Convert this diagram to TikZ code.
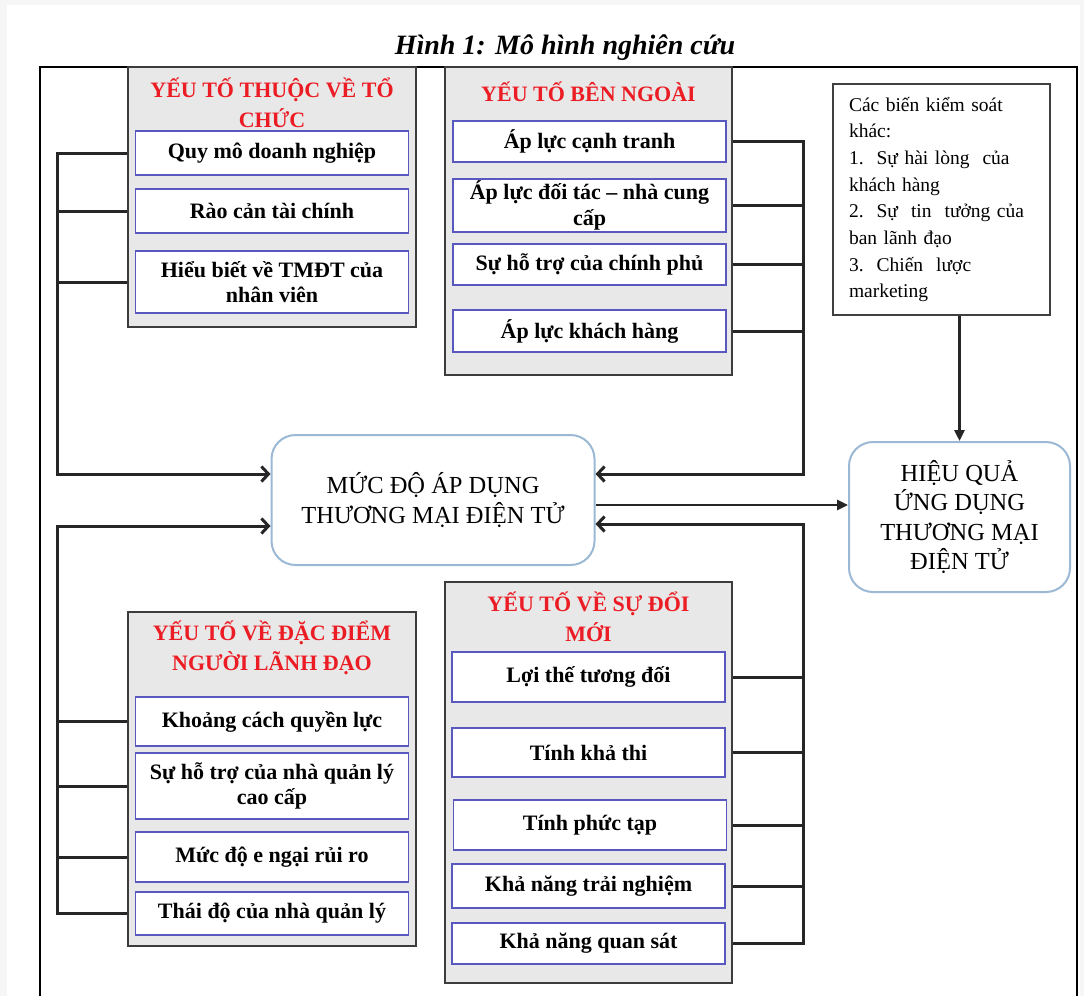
\documentclass[tikz,border=0pt]{standalone}
\usepackage{fontspec}
\setmainfont{Liberation Serif}
\usepackage{tikz}
\usetikzlibrary{arrows.meta,calc,positioning}
\definecolor{grpgray}{RGB}{232,232,232}
\definecolor{grpline}{RGB}{60,60,60}
\definecolor{itemblue}{RGB}{88,88,190}
\definecolor{hdrred}{RGB}{236,28,36}
\definecolor{mainblue}{RGB}{155,185,213}
\definecolor{pagegray}{RGB}{246,246,246}
\tikzset{
    grpbox/.style={draw=grpline,fill=grpgray,line width=2.4pt,minimum width=288pt},
    itembox/.style={draw=itemblue,fill=white,line width=1.8pt,align=center,inner sep=0pt,
        minimum width=273pt,font=\bfseries\fontsize{22}{25.5}\selectfont},
    hdrtext/.style={text=hdrred,align=center,font=\bfseries\fontsize{22}{30}\selectfont},
    mainbox/.style={draw=mainblue,fill=white,line width=2pt,rounded corners=24pt,align=center,
        inner sep=0pt,font=\fontsize{24.5}{30}\selectfont},
    ctlbox/.style={draw=black!75,fill=white,line width=1.4pt,align=left,text width=185pt,
        inner xsep=16pt,font=\fontsize{19.5}{26.7}\selectfont},
    wire/.style={line width=3pt,draw=black!85},
    wirein/.style={wire,-{Straight Barb[length=7pt,width=15pt]}},
    wireout/.style={wire,line width=2.6pt,-{Triangle[length=11pt,width=10pt]}},
    frame/.style={draw=black,line width=2pt}
}
\newcommand{\ctlrow}[2]{\makebox[#1pt][s]{#2}}

\begin{document}
\begin{tikzpicture}[x=1pt,y=-1pt]
  \fill[pagegray] (0,0) rectangle (1084,996);
  \fill[white] (7,5) rectangle (1080,996);
  \useasboundingbox (0,0) rectangle (1084,996);
  \draw[frame] (40,996) -- (40,67) -- (1077,67) -- (1077,996);
  \node[font=\bfseries\itshape\fontsize{28}{32}\selectfont] (title) at (565,48) {Hình 1: Mô hình nghiên cứu};

  % group boxes
  \node[grpbox,minimum height=260pt] (org) at (272,197) {};
  \node[grpbox,minimum width=287pt,minimum height=308pt] (ext) at (588.5,221) {};
  \node[grpbox,minimum height=334pt] (lead) at (272,779) {};
  \node[grpbox,minimum width=287pt,minimum height=401pt] (inno) at (588.5,782.5) {};

  \node[hdrtext] (orgh) at (272,103) {YẾU TỐ THUỘC VỀ TỔ\\CHỨC};
  \node[hdrtext] (exth) at (588.5,92) {YẾU TỐ BÊN NGOÀI};
  \node[hdrtext] (leadh) at (272,648) {YẾU TỐ VỀ ĐẶC ĐIỂM\\NGƯỜI LÃNH ĐẠO};
  \node[hdrtext] (innoh) at (588.5,617) {YẾU TỐ VỀ SỰ ĐỔI\\MỚI};

  % items
  \node[itembox,minimum height=44pt] (o1) at (272,153) {Quy mô doanh nghiệp};
  \node[itembox,minimum height=44pt] (o2) at (272,211) {Rào cản tài chính};
  \node[itembox,minimum height=62pt] (o3) at (272,282) {Hiểu biết về TMĐT của\\nhân viên};

  \node[itembox,minimum height=41pt] (e1) at (589.5,141.5) {Áp lực cạnh tranh};
  \node[itembox,minimum height=53pt] (e2) at (589.5,205.5) {Áp lực đối tác – nhà cung\\cấp};
  \node[itembox,minimum height=41pt] (e3) at (589.5,264.5) {Sự hỗ trợ của chính phủ};
  \node[itembox,minimum height=42pt] (e4) at (589.5,331) {Áp lực khách hàng};

  \node[itembox,minimum height=49pt] (l1) at (272,721.5) {Khoảng cách quyền lực};
  \node[itembox,minimum height=66pt] (l2) at (272,786) {Sự hỗ trợ của nhà quản lý\\cao cấp};
  \node[itembox,minimum height=50pt] (l3) at (272,857) {Mức độ e ngại rủi ro};
  \node[itembox,minimum height=43pt] (l4) at (272,913.5) {Thái độ của nhà quản lý};

  \node[itembox,minimum height=50pt] (n1) at (588.5,677) {Lợi thế tương đối};
  \node[itembox,minimum height=49pt] (n2) at (588.5,752.5) {Tính khả thi};
  \node[itembox,minimum height=50pt] (n3) at (590,825) {Tính phức tạp};
  \node[itembox,minimum height=44pt] (n4) at (588.5,886) {Khả năng trải nghiệm};
  \node[itembox,minimum height=41pt] (n5) at (588.5,943.5) {Khả năng quan sát};

  % main boxes
  \node[mainbox,minimum width=323pt,minimum height=130pt] (md) at (433,500) {MỨC ĐỘ ÁP DỤNG\\THƯƠNG MẠI ĐIỆN TỬ};
  \node[mainbox,minimum width=221pt,minimum height=150pt,font=\fontsize{24.5}{29.5}\selectfont] (hq) at (959.5,517)
    {HIỆU QUẢ\\ỨNG DỤNG\\THƯƠNG MẠI\\ĐIỆN TỬ};
  \node[ctlbox,minimum height=231pt] (ctl) at (941.5,199.5)
    {\ctlrow{171}{Các biến kiểm soát}\\khác:\\\ctlrow{169}{1.\ \ Sự hài lòng\ \ của}\\khách hàng\\
     \ctlrow{183}{2.\ \ Sự\ \ tin\ \ tưởng của}\\ban lãnh đạo\\\ctlrow{127}{3.\ \ Chiến\ \ lược}\\marketing};

  % connectors
  \coordinate (lbus) at (57,0);
  \coordinate (rbus) at (803,0);
  \coordinate (mdl1) at ($(md.west)+(0,-26)$);
  \coordinate (mdl2) at ($(md.west)+(0,26)$);
  \coordinate (mdr1) at ($(md.east)+(0,-26)$);
  \coordinate (mdr2) at ($(md.east)+(0,24)$);
  \coordinate (mdout) at ($(md.east)+(0,5)$);

  \draw[wirein] (o1 -| org.west) -- (o1 -| lbus) |- (mdl1);
  \foreach \n in {o2,o3} \draw[wire] (\n -| org.west) -- (\n -| lbus);
  \draw[wirein] (e1 -| ext.east) -- (e1 -| rbus) |- (mdr1);
  \foreach \n in {e2,e3,e4} \draw[wire] (\n -| ext.east) -- (\n -| rbus);
  \draw[wirein] (l4 -| lead.west) -- (l4 -| lbus) |- (mdl2);
  \foreach \n in {l1,l2,l3} \draw[wire] (\n -| lead.west) -- (\n -| lbus);
  \draw[wirein] (n5 -| inno.east) -- (n5 -| rbus) |- (mdr2);
  \foreach \n in {n1,n2,n3,n4} \draw[wire] (\n -| inno.east) -- (\n -| rbus);

  \draw[wireout] (mdout) -- (mdout -| hq.west);
  \draw[wireout] (ctl.south -| hq.north) -- (hq.north);
\end{tikzpicture}
\end{document}
